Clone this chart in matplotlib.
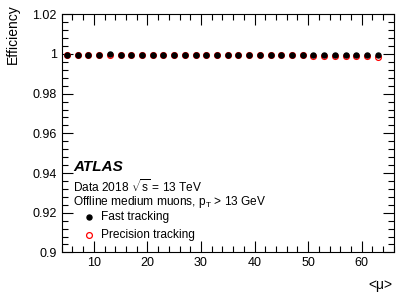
import numpy as np
import matplotlib
matplotlib.use('Agg')
import matplotlib.pyplot as plt
from matplotlib.ticker import MultipleLocator

plt.rcParams['font.family'] = ['Liberation Sans', 'DejaVu Sans']
plt.rcParams['mathtext.fontset'] = 'custom'
plt.rcParams['mathtext.rm'] = 'Liberation Sans'
plt.rcParams['mathtext.it'] = 'Liberation Sans:italic'

# <mu> bin centres
mu = [5, 7, 9, 11, 13, 15, 17, 19, 21, 23, 25, 27, 29, 31, 33,
      35, 37, 39, 41, 43, 45, 47, 49, 51, 53, 55, 57, 59, 61, 63]
eff_fast = [0.9997, 0.9996, 0.9996, 0.9997, 0.9998, 0.9997, 0.9997, 0.9997, 0.9997, 0.9997,
            0.9997, 0.9997, 0.9997, 0.9997, 0.9997, 0.9997, 0.9997, 0.9997, 0.9997, 0.9997,
            0.9997, 0.9997, 0.9997, 0.9997, 0.9996, 0.9997, 0.9996, 0.9997, 0.9997, 0.9996]
eff_prec = [0.9996, 0.9995, 0.9995, 0.9996, 0.9997, 0.9996, 0.9996, 0.9996, 0.9995, 0.9996,
            0.9995, 0.9995, 0.9995, 0.9995, 0.9995, 0.9995, 0.9994, 0.9994, 0.9994, 0.9994,
            0.9993, 0.9993, 0.9993, 0.9992, 0.9990, 0.9992, 0.9989, 0.9991, 0.9991, 0.9986]
err_fast = [0.0008] + [0.0001] * 29

fig = plt.figure(figsize=(4.15, 2.98), dpi=100)
ax = fig.add_axes([0.1487, 0.153, 0.8003, 0.799])

ax.errorbar(mu, eff_prec, yerr=err_fast, fmt='o', ms=4.2, mfc='none', mec='red',
            mew=0.9, ecolor='red', elinewidth=0.8, capsize=0, zorder=2)
ax.errorbar(mu, eff_fast, yerr=err_fast, fmt='o', ms=3.6, color='black',
            ecolor='black', elinewidth=0.8, capsize=0, zorder=3)

ax.set_xlim(4, 66)
ax.set_ylim(0.9, 1.02)
ax.xaxis.set_major_locator(MultipleLocator(10))
ax.xaxis.set_minor_locator(MultipleLocator(2))
ax.yaxis.set_minor_locator(MultipleLocator(0.004))
ax.set_yticks([0.9, 0.92, 0.94, 0.96, 0.98, 1.0, 1.02])
ax.set_yticklabels(['0.9', '0.92', '0.94', '0.96', '0.98', '1', '1.02'])
ax.tick_params(which='both', direction='in', top=True, right=True, labelsize=9, width=0.8)
ax.tick_params(which='major', length=8)
ax.tick_params(which='minor', length=4)
ax.tick_params(axis='x', pad=3)
for s in ax.spines.values():
    s.set_linewidth(0.8)

fig.text(0.03, 0.985, 'Efficiency', rotation=90, ha='center', va='top', fontsize=10)
fig.text(0.945, 0.045, '<μ>', ha='right', va='center', fontsize=10)

ax.text(0.035, 0.358, 'ATLAS', transform=ax.transAxes, fontsize=11,
        fontweight='bold', fontstyle='italic', va='center')
ax.text(0.035, 0.278, r'Data 2018 $\sqrt{\mathrm{s}}$ = 13 TeV', transform=ax.transAxes,
        fontsize=8.6, va='center')
ax.text(0.035, 0.21, r'Offline medium muons, p$_{\rm T}$ > 13 GeV', transform=ax.transAxes,
        fontsize=8.6, va='center')
ax.plot([0.083], [0.147], 'o', ms=3.6, color='black', transform=ax.transAxes)
ax.text(0.118, 0.147, 'Fast tracking', transform=ax.transAxes, fontsize=8.6, va='center')
ax.plot([0.083], [0.075], 'o', ms=4.2, mfc='none', mec='red', mew=0.9, transform=ax.transAxes)
ax.text(0.118, 0.075, 'Precision tracking', transform=ax.transAxes, fontsize=8.6, va='center')

fig.savefig('out.png', dpi=100)
